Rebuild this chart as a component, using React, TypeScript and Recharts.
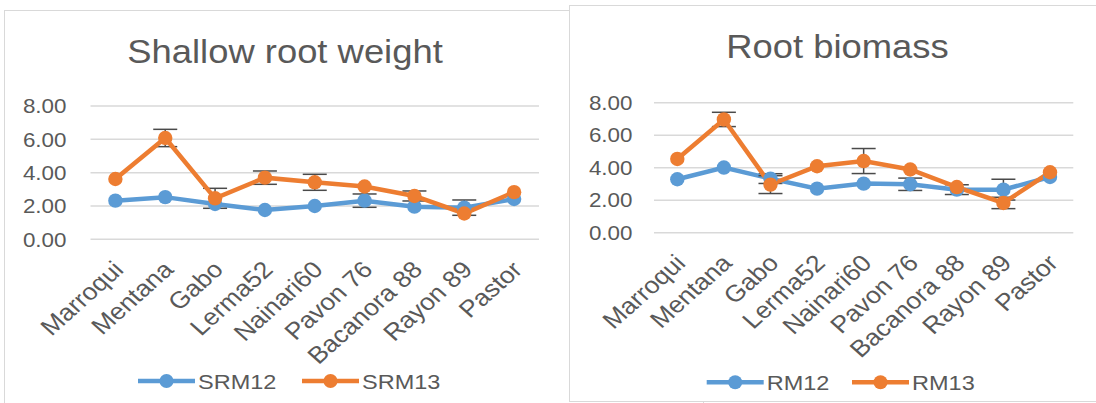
import React from 'react';
import { LineChart, Line, XAxis, YAxis, CartesianGrid, ErrorBar } from 'recharts';

const categories = ['Marroqui', 'Mentana', 'Gabo', 'Lerma52', 'Nainari60', 'Pavon 76', 'Bacanora 88', 'Rayon 89', 'Pastor'];

const srm12 = [2.32, 2.53, 2.12, 1.76, 2.0, 2.32, 1.96, 1.9, 2.42];
const srm13 = [3.62, 6.08, 2.46, 3.7, 3.42, 3.17, 2.6, 1.55, 2.83];
const srm12Err = [null, null, null, null, null, 0.4, null, 0.46, null];
const srm13Err = [null, 0.52, 0.6, 0.4, 0.48, null, 0.3, null, null];

const rm12 = [3.29, 4.01, 3.33, 2.71, 3.02, 2.98, 2.65, 2.65, 3.43];
const rm13 = [4.54, 6.97, 2.96, 4.09, 4.41, 3.89, 2.81, 1.83, 3.72];
const rm12Err = [null, null, 0.3, null, null, 0.38, 0.3, 0.64, null];
const rm13Err = [null, 0.44, 0.55, null, 0.77, null, null, 0.35, null];

const yTicks = [0, 2, 4, 6, 8];
const titles = ['Shallow root weight', 'Root biomass'];
const seriesNames = [['SRM12', 'SRM13'], ['RM12', 'RM13']];

const BLUE = '#5B9BD5';
const ORANGE = '#ED7D31';
const TEXT = '#595959';
const GRID = '#d9d9d9';
const EBAR = '#4a4a4a';
const FONT = '"Liberation Sans", Arial, sans-serif';
const SX = 1.12;

const leftData = categories.map((c, i) => ({ name: c, a: srm12[i], b: srm13[i], ea: srm12Err[i], eb: srm13Err[i] }));
const rightData = categories.map((c, i) => ({ name: c, a: rm12[i], b: rm13[i], ea: rm12Err[i], eb: rm13Err[i] }));

const YTick = (props: any) => {
  const { x, y, payload } = props;
  return (
    <text transform={`translate(${x},${y}) scale(${SX},1)`} textAnchor="end" dy="0.36em" fill={TEXT} fontSize={20} fontFamily={FONT}>
      {Number(payload.value).toFixed(2)}
    </text>
  );
};

const XTick = (props: any) => {
  const { x, y, payload } = props;
  return (
    <text transform={`translate(${x + 3},${y + 26}) scale(${SX},1) rotate(-45)`} textAnchor="end" dy="0.35em" fill={TEXT} fontSize={23.5} fontFamily={FONT}>
      {payload.value}
    </text>
  );
};

type PanelProps = {
  data: any[];
  width: number;
  height: number;
  top: number;
  right: number;
  yAxisWidth: number;
  xAxisHeight: number;
  tickMargin: number;
  pad: number;
};

const Panel = ({ data, width, height, top, right, yAxisWidth, xAxisHeight, tickMargin, pad }: PanelProps) => (
  <LineChart width={width} height={height} data={data} margin={{ top, right, bottom: 0, left: 0 }}>
    <CartesianGrid vertical={false} stroke={GRID} strokeWidth={1.5} />
    <XAxis
      dataKey="name"
      interval={0}
      axisLine={false}
      tickLine={false}
      tickSize={0}
      tickMargin={0}
      height={xAxisHeight}
      padding={{ left: pad, right: pad }}
      tick={<XTick />}
    />
    <YAxis
      domain={[0, 8]}
      ticks={yTicks}
      axisLine={false}
      tickLine={false}
      tickSize={0}
      tickMargin={tickMargin}
      width={yAxisWidth}
      tick={<YTick />}
    />
    <Line dataKey="a" stroke={BLUE} strokeWidth={4.5} isAnimationActive={false} activeDot={false}
      dot={{ r: 7.2, fill: BLUE, stroke: BLUE, strokeWidth: 0 }}>
      <ErrorBar dataKey="ea" direction="y" width={12} stroke={EBAR} strokeWidth={1.5} isAnimationActive={false} />
    </Line>
    <Line dataKey="b" stroke={ORANGE} strokeWidth={4.5} isAnimationActive={false} activeDot={false}
      dot={{ r: 7.2, fill: ORANGE, stroke: ORANGE, strokeWidth: 0 }}>
      <ErrorBar dataKey="eb" direction="y" width={12} stroke={EBAR} strokeWidth={1.5} isAnimationActive={false} />
    </Line>
  </LineChart>
);

const LegendItem = ({ x, y, color, label }: { x: number; y: number; color: string; label: string }) => (
  <g>
    <line x1={x} y1={y} x2={x + 57} y2={y} stroke={color} strokeWidth={4.5} />
    <circle cx={x + 28.5} cy={y} r={7} fill={color} />
    <text transform={`translate(${x + 60},${y + 7.5}) scale(${SX},1)`} fill={TEXT} fontSize={21} fontFamily={FONT}>
      {label}
    </text>
  </g>
);

export default function App() {
  return (
    <div style={{ position: 'absolute', left: 0, top: 0, width: 1096, height: 403, overflow: 'hidden', background: '#fff' }}>
      <div style={{ position: 'absolute', left: 4, top: 10, width: 700, height: 500, border: `1.5px solid ${GRID}`, background: '#fff', boxSizing: 'border-box' }} />
      <div style={{ position: 'absolute', left: 0, top: 0 }}>
        <Panel data={leftData} width={568} height={403} top={106} right={29} yAxisWidth={90.5} xAxisHeight={163.7} tickMargin={24} pad={24.9} />
      </div>
      <div style={{ position: 'absolute', left: 569, top: 5, width: 600, height: 396.5, border: `1.5px solid ${GRID}`, background: '#fff', boxSizing: 'border-box' }} />
      <div style={{ position: 'absolute', left: 569, top: 0 }}>
        <Panel data={rightData} width={527} height={403} top={102.7} right={22.7} yAxisWidth={85} xAxisHeight={170.3} tickMargin={21.5} pad={23.3} />
      </div>
      <svg width={1096} height={403} style={{ position: 'absolute', left: 0, top: 0, pointerEvents: 'none' }}>
        <text transform={`translate(285,63.3) scale(${SX},1)`} textAnchor="middle" fill={TEXT} fontSize={32.5} fontFamily={FONT}>{titles[0]}</text>
        <text transform={`translate(837.5,58.3) scale(${SX},1)`} textAnchor="middle" fill={TEXT} fontSize={32.5} fontFamily={FONT}>{titles[1]}</text>
        <LegendItem x={138} y={381} color={BLUE} label={seriesNames[0][0]} />
        <LegendItem x={302} y={381} color={ORANGE} label={seriesNames[0][1]} />
        <LegendItem x={706.7} y={382.3} color={BLUE} label={seriesNames[1][0]} />
        <LegendItem x={852} y={382.3} color={ORANGE} label={seriesNames[1][1]} />
      </svg>
    </div>
  );
}
